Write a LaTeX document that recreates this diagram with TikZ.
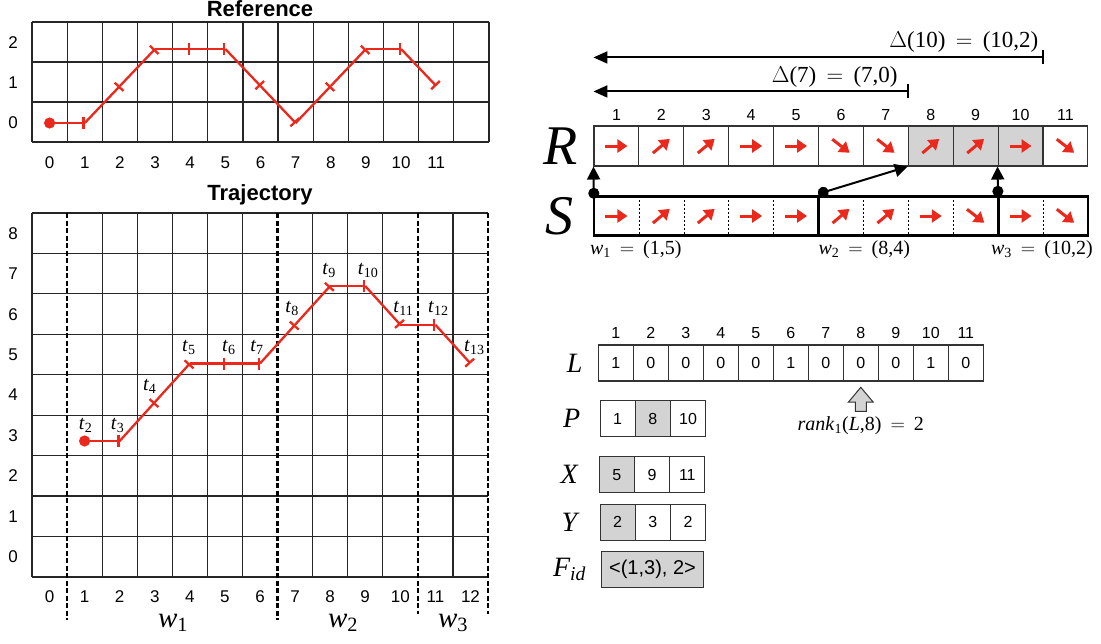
\documentclass[tikz,border=0pt]{standalone}
\usepackage{fix-cm}
\usepackage{fontspec}
\setmainfont{Liberation Serif}
\setsansfont{Liberation Sans}
\usetikzlibrary{positioning, arrows.meta, shapes.arrows, calc}

\definecolor{trajred}{RGB}{234,40,28}
\definecolor{cellgray}{RGB}{211,211,211}

\newcommand{\fsz}[1]{\fontsize{#1}{#1}\selectfont}
\newcommand{\isub}[2]{\textit{#1}\textsubscript{#2}}
\newcommand{\eqsp}{\hspace{.45em}\(=\)\hspace{.45em}}

\tikzset{
  gridline/.style={line width=1.2pt, black!85},
  winsep/.style={line width=2.6pt, dash pattern=on 5pt off 2.5pt},
  traj/.style={color=trajred, line width=2.3pt, -{Bar[width=12pt]}},
  trajstart/.style={{Circle[length=11pt]}-{Bar[width=12pt]}, shorten <=-5.5pt},
  plottitle/.style={font=\sffamily\bfseries\fsz{22}, inner sep=0pt, anchor=base},
  axisnum/.style={font=\sffamily\fsz{17}, inner sep=0pt},
  tlab/.style={font=\fsz{20}, inner sep=0pt},
  wbig/.style={font=\fsz{29}, inner sep=0pt},
  rcell/.style={draw=black!80, line width=1.1pt, minimum width=44.9pt, minimum height=40pt, inner sep=0pt},
  scell/.style={minimum width=44.9pt, minimum height=39pt, inner sep=0pt},
  cellarrow/.style={trajred, line width=3pt, -{Triangle[length=10pt, width=13pt]}},
  winbox/.style={line width=2.6pt},
  dotsep/.style={line width=0.9pt, dash pattern=on 2pt off 2pt},
  slink/.style={line width=2pt, {Circle[length=11pt]}-{Triangle[length=13pt, width=13pt]}, shorten <=-5.5pt},
  deltaspan/.style={line width=2pt, {Triangle[length=14pt, width=12pt]}-{Bar[width=14pt]}},
  dlab/.style={font=\fsz{23}, inner sep=0pt, anchor=east},
  wlab/.style={font=\fsz{20}, inner sep=0pt, anchor=north west},
  idx/.style={font=\sffamily\fsz{16}, inner sep=0pt},
  bigletter/.style={font=\itshape\fsz{56}, inner sep=0pt},
  arrname/.style={font=\itshape\fsz{28}, inner sep=0pt},
  lcell/.style={draw=black!80, line width=1.1pt, minimum width=35.1pt, minimum height=36pt, inner sep=0pt, font=\sffamily\fsz{16}},
  rankptr/.style={single arrow, shape border rotate=90, draw=black!80, fill=cellgray, line width=1pt, minimum height=24pt, single arrow head extend=7pt, inner sep=5pt, single arrow tip angle=80},
  ranklab/.style={font=\fsz{20}, inner sep=0pt}
}

\begin{document}
\begin{tikzpicture}[x=1pt, y=-1pt]
\useasboundingbox (0,0) rectangle (1101,643);

% reference
\node[plottitle] (reftitle) at (260,16) {Reference};
\foreach \i in {0,...,13}
  \draw[gridline] ({32+35.15*\i},22) -- ({32+35.15*\i},142);
\foreach \j in {0,...,3}
  \draw[gridline] (32,{22+40*\j}) -- (489,{22+40*\j});
\foreach \i in {0,...,11}
  \node[axisnum] (refx\i) at ({49.6+35.15*\i},163) {\i};
\foreach \j in {0,1,2}
  \node[axisnum] (refy\j) at (13,{123-40*\j}) {\j};
\foreach \v [count=\k from 0] in {0,0,1,2,2,2,1,0,1,2,2,1}
  \coordinate (rp\k) at ({49.6+35.15*\k},{123-37*\v});
\draw[traj, trajstart] (rp0) -- (rp1);
\foreach \k in {1,...,10} {
  \pgfmathtruncatemacro\n{\k+1}
  \draw[traj] (rp\k) -- (rp\n);
}

% trajectory (window borders are dashed, not solid)
\node[plottitle] (trajtitle) at (260,200.7) {Trajectory};
\foreach \i in {0,2,3,4,5,6,8,9,10,12}
  \draw[gridline] ({32+35.08*\i},213) -- ({32+35.08*\i},577);
\foreach \j in {0,...,9}
  \draw[gridline] (32,{213+40.44*\j}) -- (488,{213+40.44*\j});
\foreach \i/\e in {1/620,7/620,11/614,13/614}
  \draw[winsep] ({32+35.08*\i},213) -- ({32+35.08*\i},\e);
\foreach \i in {0,...,12}
  \node[axisnum] (trx\i) at ({49.5+35.08*\i},597) {\i};
\foreach \j in {0,...,8}
  \node[axisnum] (try\j) at (13,{556.8-40.44*\j}) {\j};
\foreach \v [count=\k] in {3,3,4,5,5,5,6,7,7,6,6,5} {
  \pgfmathtruncatemacro\n{\k+1}
  \coordinate (t\n) at ({49.5+35.08*\k},{557.25-38.75*\v});
}
\draw[traj, trajstart] (t2) -- (t3);
\foreach \k in {3,...,12} {
  \pgfmathtruncatemacro\n{\k+1}
  \draw[traj] (t\k) -- (t\n);
}
\foreach \k/\dx in {2/1,3/-2,4/-5,5/-1,6/4,7/-3,8/-3,9/-1,10/3,11/3,12/3,13/4}
  \node[tlab] (lt\k) at ($(t\k)+(\dx,-16)$) {\isub{t}{\k}};
\node[wbig] (w1) at (173,623) {\isub{w}{1}};
\node[wbig] (w2) at (343,623) {\isub{w}{2}};
\node[wbig] (w3) at (453,623) {\isub{w}{3}};

% R and S
\foreach \ang/\f [count=\k] in {0/white,-40/white,-40/white,0/white,0/white,38/white,38/white,-40/cellgray,-40/cellgray,0/cellgray,38/white} {
  \node[rcell, fill=\f] (r\k) at ({594+44.9*(\k-0.5)},146) {};
  \draw[cellarrow] ($(r\k)-(\ang:11)$) -- ($(r\k)+(\ang:11)$);
  \node[idx, above=5pt of r\k] (ri\k) {\k};
}
\foreach \ang [count=\k] in {0,-40,-40,0,0,-40,-40,0,38,0,38} {
  \node[scell] (s\k) at ({594+44.9*(\k-0.5)},216) {};
  \draw[cellarrow] ($(s\k)-(\ang:11)$) -- ($(s\k)+(\ang:11)$);
}
\foreach \k in {1,2,3,4,6,7,8,10}
  \draw[dotsep] (s\k.north east) -- (s\k.south east);
\draw[winbox] (s1.north west) rectangle (s5.south east);
\draw[winbox] (s6.north west) rectangle (s9.south east);
\draw[winbox] (s10.north west) rectangle (s11.south east);
\node[bigletter, left=16pt of r1] (rname) {R};
\node[bigletter, left=20pt of s1] (sname) {S};
\draw[slink] ($(s1.north west)+(0,-3)$) -- (r1.south west);
\draw[slink] ($(s6.north west)+(5,-4)$) -- (r8.south west);
\draw[slink] ($(s10.north west)+(0,-5)$) -- (r10.south west);

\coordinate (d7a) at ($(r1.north west)+(0,-34)$);
\coordinate (d7b) at ($(r7.north east)+(0,-34)$);
\coordinate (d10a) at ($(r1.north west)+(0,-68)$);
\coordinate (d10b) at ($(r10.north east)+(0,-68)$);
\draw[deltaspan] (d7a) -- (d7b);
\draw[deltaspan] (d10a) -- (d10b);
\node[dlab] (d7lab) at ($(d7b)+(-11,-14)$) {\(\Delta\)(7)\eqsp(7,0)};
\node[dlab] (d10lab) at ($(d10b)+(-5,-15)$) {\(\Delta\)(10)\eqsp(10,2)};

\node[wlab] (w1eq) at ($(s1.south west)+(-4,5)$) {\isub{w}{1}\eqsp(1,5)};
\node[wlab] (w2eq) at ($(s6.south west)+(0,5)$) {\isub{w}{2}\eqsp(8,4)};
\node[wlab] (w3eq) at ($(s10.south west)+(-7,5)$) {\isub{w}{3}\eqsp(10,2)};

% L, P, X, Y, F
\foreach \bit [count=\k] in {1,0,0,0,0,1,0,0,0,1,0} {
  \node[lcell] (l\k) at ({598.3+35*(\k-0.5)},363) {\bit};
  \node[idx, above=6pt of l\k] (li\k) {\k};
}
\node[arrname, left=15pt of l1] (lname) {L};
\node[rankptr, below=5pt of l8] (ptr) {};
\node[ranklab, below=5pt of ptr] (rank) {\textit{rank}\textsubscript{1}(\textit{L},8)\eqsp 2};

\foreach \val/\f [count=\k] in {1/white,8/cellgray,10/white}
  \node[lcell, fill=\f] (cp\k) at ({600+35.2*(\k-0.5)},418.7) {\val};
\foreach \val/\f [count=\k] in {5/cellgray,9/white,11/white}
  \node[lcell, fill=\f] (cx\k) at ({599.3+35.2*(\k-0.5)},474.7) {\val};
\foreach \val/\f [count=\k] in {2/cellgray,3/white,2/white}
  \node[lcell, fill=\f] (cy\k) at ({600+35.2*(\k-0.5)},522.2) {\val};
\node[lcell, fill=cellgray, minimum width=101.6pt, font=\sffamily\fsz{20}] (fid) at (652.5,569.5) {<(1,3), 2>};
\node[arrname, left=19pt of cp1] (pname) {P};
\node[arrname, left=21pt of cx1] (xname) {X};
\node[arrname, left=22pt of cy1] (yname) {Y};
\node[arrname, left=15pt of fid] (fname) {\textit{F}\textsubscript{\textit{id}}};
\end{tikzpicture}
\end{document}
